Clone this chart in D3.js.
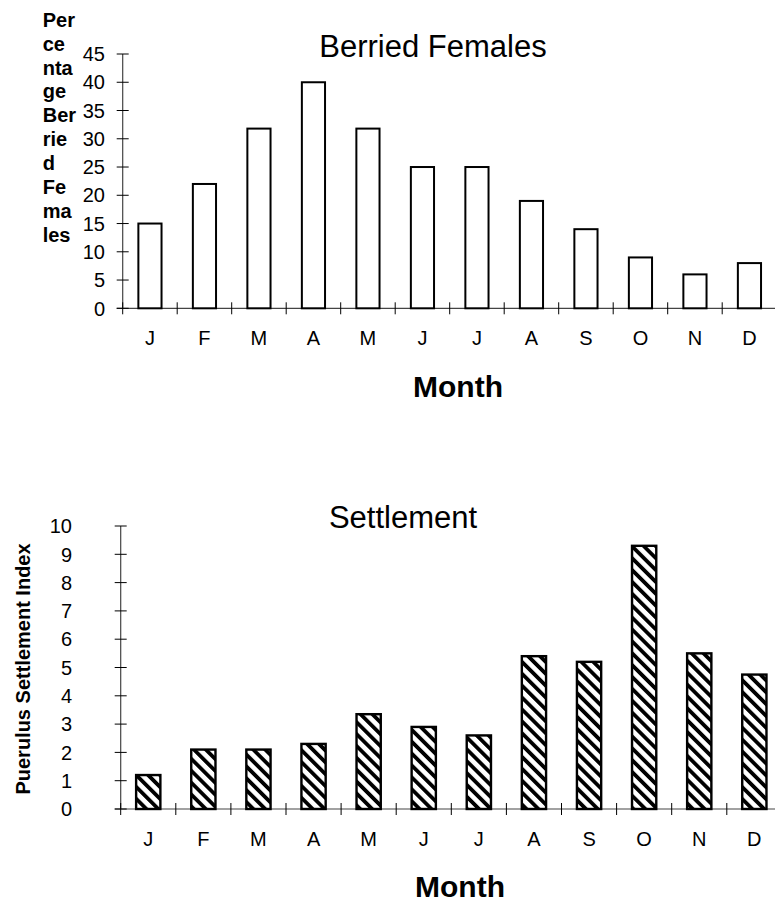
<!DOCTYPE html>
<html><head><meta charset="utf-8">
<script src="https://cdn.jsdelivr.net/npm/d3@7"></script>
<style>
html,body{margin:0;padding:0;background:#fff;}
svg{display:block;}
text{font-family:"Liberation Sans",Arial,sans-serif;fill:#000;}
</style></head>
<body>
<svg id="c" width="775" height="905"></svg>
<script>
const monthLabels = ["J","F","M","A","M","J","J","A","S","O","N","D"];
const berried = [15,22,31.8,40,31.8,25,25,19,14,9,6,8];
const settlement = [1.2,2.1,2.1,2.3,3.35,2.9,2.6,5.4,5.2,9.3,5.5,4.75];
const berriedTicks = [0,5,10,15,20,25,30,35,40,45];
const settlementTicks = [0,1,2,3,4,5,6,7,8,9,10];
const topYLabelLines = ["Per","ce","nta","ge","Ber","rie","d","Fe","ma","les"];

const svg = d3.select("#c");
const defs = svg.append("defs");
const pat = defs.append("pattern").attr("id","hatch")
  .attr("patternUnits","userSpaceOnUse").attr("width",8.4).attr("height",20)
  .attr("patternTransform","rotate(-45)");
pat.append("rect").attr("width",8.4).attr("height",20).attr("fill","#fff");
pat.append("rect").attr("x",0).attr("width",3.8).attr("height",20).attr("fill","#000");

function drawChart(opt){
  const g = svg.append("g");
  const idx = d3.range(opt.values.length);
  const x = d3.scaleBand().domain(idx).range(opt.xRange).paddingInner(opt.pad).paddingOuter(opt.pad/2);
  const y = d3.scaleLinear().domain(opt.yDomain).range(opt.yRange);
  const x0 = opt.xRange[0];
  g.append("line").attr("x1",x0).attr("x2",x0).attr("y1",y(opt.yDomain[1])).attr("y2",y(0))
    .attr("stroke","#444").attr("stroke-width",1.2);
  g.append("line").attr("x1",x0-6).attr("x2",775).attr("y1",y(0)).attr("y2",y(0))
    .attr("stroke","#444").attr("stroke-width",1.2);
  opt.yTicks.forEach(t=>{
    g.append("line").attr("x1",x0-6).attr("x2",x0+6).attr("y1",y(t)).attr("y2",y(t))
      .attr("stroke","#000").attr("stroke-width",1);
    g.append("text").attr("x",opt.yLabelX).attr("y",y(t)).attr("dy","0.36em")
      .attr("text-anchor","end").style("font-size","20px").text(t);
  });
  d3.range(idx.length+1).forEach(i=>{
    const xx = x0 + i*x.step();
    g.append("line").attr("x1",xx).attr("x2",xx).attr("y1",y(0)-6).attr("y2",y(0)+6)
      .attr("stroke","#000").attr("stroke-width",1);
  });
  g.selectAll("rect.bar").data(idx).enter().append("rect").attr("class","bar")
    .attr("x",i=>x(i)).attr("width",x.bandwidth())
    .attr("y",i=>y(opt.values[i])).attr("height",i=>y(0)-y(opt.values[i]))
    .attr("fill",opt.fill).attr("stroke","#000").attr("stroke-width",opt.sw);
  idx.forEach(i=>{
    g.append("text").attr("x",x(i)+x.bandwidth()/2).attr("y",opt.xLabelY)
      .attr("text-anchor","middle").style("font-size","20px").text(monthLabels[i]);
  });
  g.append("text").attr("x",opt.titleX).attr("y",opt.titleY).attr("text-anchor","middle")
    .style("font-size","31px").text(opt.title);
  g.append("text").attr("x",opt.monthX).attr("y",opt.monthY).attr("text-anchor","middle")
    .style("font-size","30px").style("font-weight","bold").text("Month");
  return g;
}

drawChart({values:berried, xRange:[122.7,776.7], pad:0.575, yDomain:[0,45], yRange:[308.3,54],
  yTicks:berriedTicks, yLabelX:105, xLabelY:345, fill:"#fff", sw:2,
  title:"Berried Females", titleX:433, titleY:56.7, monthX:458, monthY:397.3});

drawChart({values:settlement, xRange:[120.7,781.9], pad:0.56, yDomain:[0,10], yRange:[809,526],
  yTicks:settlementTicks, yLabelX:72, xLabelY:846, fill:"url(#hatch)", sw:2.4,
  title:"Settlement", titleX:403, titleY:528.3, monthX:460, monthY:896.7});

const yl = svg.append("text").style("font-size","20px").style("font-weight","bold");
topYLabelLines.forEach((s,i)=>{
  yl.append("tspan").attr("x",42.7).attr("y",26.7+i*23.9).text(s);
});
svg.append("text").attr("transform","translate(30,669) rotate(-90)").attr("text-anchor","middle")
  .style("font-size","20px").style("font-weight","bold").text("Puerulus Settlement Index");
</script>
</body></html>
